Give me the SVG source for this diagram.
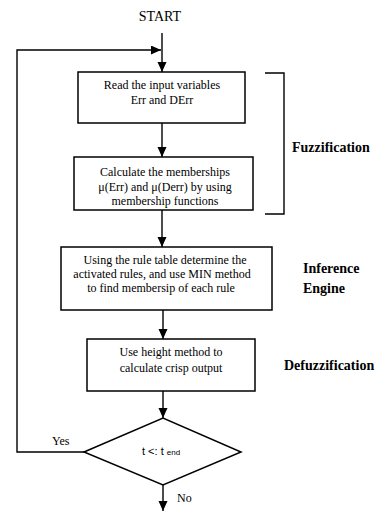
<svg xmlns="http://www.w3.org/2000/svg" width="383" height="512" viewBox="0 0 383 512">
<defs>
<marker id="ah" markerUnits="userSpaceOnUse" markerWidth="10" markerHeight="13" refX="10" refY="4.5" orient="auto">
<path d="M0,0 L10,4.5 L0,9 Z" fill="#000"/>
</marker>
<style>
.box{fill:#fff;stroke:#000;stroke-width:1.5}
.ln{fill:none;stroke:#000;stroke-width:1.4}
.t{font-family:"Liberation Serif","Times New Roman",serif;font-size:12px;fill:#000;text-anchor:middle}
.lab{font-family:"Liberation Serif","Times New Roman",serif;font-size:14px;font-weight:bold;fill:#000}
.s{font-family:"Liberation Sans",Arial,sans-serif;font-size:11px;fill:#000}
</style>
</defs>
<rect width="383" height="512" fill="#fff"/>
<g id="start"><text class="t" x="160" y="21" style="font-size:14px">START</text></g>
<g id="connectors">
<line class="ln" x1="162" y1="33" x2="162" y2="72" marker-end="url(#ah)"/>
<polyline class="ln" points="84,452 17,452 17,50 161,50" marker-end="url(#ah)"/>
<line class="ln" x1="162" y1="123" x2="162" y2="157" marker-end="url(#ah)"/>
<line class="ln" x1="162" y1="210" x2="162" y2="247" marker-end="url(#ah)"/>
<line class="ln" x1="163" y1="310" x2="163" y2="339" marker-end="url(#ah)"/>
<line class="ln" x1="163" y1="391" x2="163" y2="418" marker-end="url(#ah)"/>
<line class="ln" x1="163" y1="485" x2="163" y2="511" marker-end="url(#ah)"/>
</g>
<g id="read">
<rect class="box" x="78" y="72" width="167" height="51"/>
<text class="t" x="162" y="89">Read the input variables</text>
<text class="t" x="162" y="104">Err and DErr</text>
</g>
<g id="calc">
<rect class="box" x="74" y="157" width="179" height="53"/>
<text class="t" x="165" y="176">Calculate the memberships</text>
<text class="t" x="165" y="191">μ(Err) and μ(Derr) by using</text>
<text class="t" x="165" y="205">membership functions</text>
</g>
<g id="rules">
<rect class="box" x="61" y="247" width="211" height="63"/>
<text class="t" x="165" y="264">Using the rule table determine the</text>
<text class="t" x="162" y="278">activated rules, and use MIN method</text>
<text class="t" x="161" y="292">to find membersip of each rule</text>
</g>
<g id="height">
<rect class="box" x="87" y="339" width="168" height="52"/>
<text class="t" x="171" y="356">Use height method to</text>
<text class="t" x="171" y="372">calculate crisp output</text>
</g>
<g id="decision">
<polygon class="box" points="84,452 163,418 241,452 163,485"/>
<text class="s" x="142" y="455">t &lt;: t <tspan style="font-size:8px">end</tspan></text>
</g>
<g id="labels">
<text class="s" x="52" y="445" style="font-family:'Liberation Serif',serif;font-size:12px">Yes</text>
<text class="s" x="177" y="502" style="font-family:'Liberation Serif',serif;font-size:12px">No</text>
</g>
<g id="fuzzification">
<polyline class="ln" points="265,73 284,73 284,214 265,214"/>
<text class="lab" x="292" y="152">Fuzzification</text>
</g>
<g id="inference">
<text class="lab" x="303" y="273">Inference</text>
<text class="lab" x="303" y="293">Engine</text>
</g>
<g id="defuzzification">
<text class="lab" x="284" y="370">Defuzzification</text>
</g>
</svg>
